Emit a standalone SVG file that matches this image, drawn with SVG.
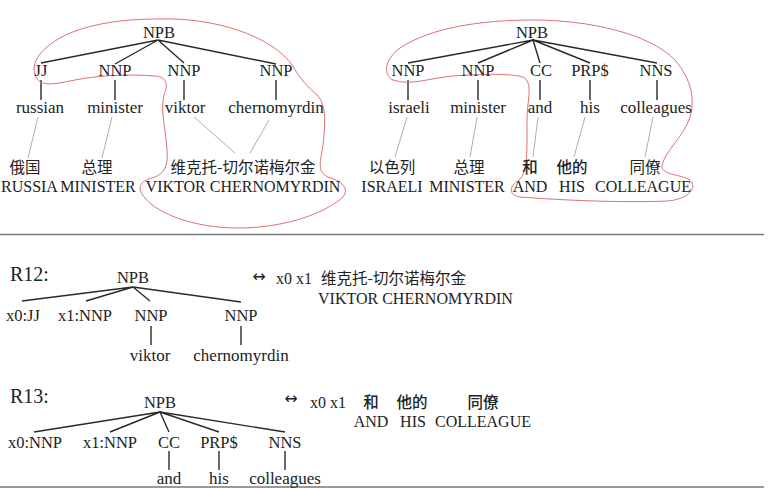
<svg xmlns="http://www.w3.org/2000/svg" width="770" height="488" viewBox="0 0 770 488">
<style>
text{font-family:"Liberation Serif","Times New Roman",serif;fill:#222;text-anchor:middle}
.c{font-size:16.5px}
.w{font-size:17px}
.u{font-size:16px}
.r{font-size:20px;text-anchor:start}
.zh{font-family:"Noto Sans CJK SC","Noto Sans CJK TC",sans-serif;font-size:15.5px}
.zb{font-family:"Noto Sans CJK SC","Noto Sans CJK TC",sans-serif;font-size:15.5px;font-weight:500}
.ar{font-family:"DejaVu Sans",sans-serif;font-size:16px}
.e{stroke:#2a2a2a;stroke-width:1.4;fill:none}
.a{stroke:#9a9a9a;stroke-width:0.8;fill:none}
.o{stroke:#e07070;stroke-width:1;fill:none}
.s{stroke:#777;stroke-width:1.6}
</style>

<g id="connectors">
  <!-- top-left tree -->
  <path class="e" d="M158,40L41,63M158,40L115,64M158,40L184,63M158,40L276,64"/>
  <path class="e" d="M41,80V100M115,80V100M184,80V100M276,80V100"/>
  <path class="a" d="M38,117L28,158M112,117L102,158M194,117L235,153M269,120L250,153"/>
  <!-- top-right tree -->
  <path class="e" d="M533,40L408,63M533,40L478,63M533,40L540,63M533,40L590,63M533,40L657,63"/>
  <path class="e" d="M408,80V100M478,80V100M540,80V100M590,80V100M657,80V100"/>
  <path class="a" d="M407,117L395,157M477,117L470,157M538,117L533,157M585,117L574,157M653,117L645,157"/>
  <!-- R12 -->
  <path class="e" d="M133,287L22,301M133,287L86,301M133,287L150,301M133,287L241,302"/>
  <path class="e" d="M151,326V345M241,326V345"/>
  <!-- R13 -->
  <path class="e" d="M160,412L34,432M160,412L110,432M160,412L169,432M160,412L219,432M160,412L285,432"/>
  <path class="e" d="M169,451V470M219,451V470M285,451V470"/>
</g>

<g id="outlines">
  <path class="o" d="M157,19 C215,17 272,36 293,66 C299,78 308,87 318,96 C327,106 325,128 323,145 C321,160 316,172 328,177 C345,182 352,192 338,201 C318,216 280,228 238,228 C195,228 158,214 145,198 C136,188 140,181 152,178 C166,174 168,164 167,150 C166,130 160,110 164,95 C168,86 168,77 155,76 C130,74 100,75 75,80 C55,84 40,88 35,75 C30,60 45,44 70,33 C95,23 125,19 157,19 Z"/>
  <path class="o" d="M533,20 C590,20 650,34 675,60 C692,80 695,100 690,117 C684,136 666,150 662,165 C660,175 680,174 690,180 C698,188 688,199 668,201 C620,203 560,200 520,197 C508,195 509,186 519,180 C528,172 527,150 527,120 C527,100 533,86 525,78 C515,73 480,74 453,76 C430,78 410,86 393,80 C383,75 384,60 400,48 C430,28 480,20 533,20 Z"/>
</g>

<g id="separators">
  <line class="s" x1="0" y1="234.5" x2="764" y2="234.5"/>
  <line class="s" x1="0" y1="487" x2="764" y2="487"/>
</g>

<!-- top-left tree -->
<g id="tl-npb"><text class="c" x="159" y="38">NPB</text></g>
<g id="tl-jj"><text class="c" x="41" y="76">JJ</text></g>
<g id="tl-nnp1"><text class="c" x="115" y="76">NNP</text></g>
<g id="tl-nnp2"><text class="c" x="184" y="76">NNP</text></g>
<g id="tl-nnp3"><text class="c" x="276" y="76">NNP</text></g>
<g id="tl-russian"><text class="w" x="40" y="113">russian</text></g>
<g id="tl-minister"><text class="w" x="115" y="113">minister</text></g>
<g id="tl-viktor"><text class="w" x="185" y="113">viktor</text></g>
<g id="tl-chernomyrdin"><text class="w" x="276" y="113">chernomyrdin</text></g>
<g id="tl-zh1"><text class="zh" x="25" y="173">俄国</text><text class="u" x="1" y="192" style="text-anchor:start">RUSSIA</text></g>
<g id="tl-zh2"><text class="zh" x="97" y="173">总理</text><text class="u" x="98" y="192">MINISTER</text></g>
<g id="tl-zh3"><text class="zh" x="243" y="173">维克托-切尔诺梅尔金</text><text class="u" x="243" y="192">VIKTOR CHERNOMYRDIN</text></g>

<!-- top-right tree -->
<g id="tr-npb"><text class="c" x="532" y="38">NPB</text></g>
<g id="tr-nnp1"><text class="c" x="408" y="76">NNP</text></g>
<g id="tr-nnp2"><text class="c" x="478" y="76">NNP</text></g>
<g id="tr-cc"><text class="c" x="541" y="76">CC</text></g>
<g id="tr-prp"><text class="c" x="590" y="76">PRP$</text></g>
<g id="tr-nns"><text class="c" x="656" y="76">NNS</text></g>
<g id="tr-israeli"><text class="w" x="409" y="113">israeli</text></g>
<g id="tr-minister"><text class="w" x="478" y="113">minister</text></g>
<g id="tr-and"><text class="w" x="540" y="113">and</text></g>
<g id="tr-his"><text class="w" x="590" y="113">his</text></g>
<g id="tr-colleagues"><text class="w" x="656" y="113">colleagues</text></g>
<g id="tr-zh1"><text class="zh" x="392" y="173">以色列</text><text class="u" x="392" y="192">ISRAELI</text></g>
<g id="tr-zh2"><text class="zh" x="469" y="173">总理</text><text class="u" x="467" y="192">MINISTER</text></g>
<g id="tr-zh3"><text class="zb" x="530" y="173">和</text><text class="u" x="530" y="192">AND</text></g>
<g id="tr-zh4"><text class="zb" x="572" y="173">他的</text><text class="u" x="572" y="192">HIS</text></g>
<g id="tr-zh5"><text class="zh" x="645" y="173">同僚</text><text class="u" x="643" y="192">COLLEAGUE</text></g>

<!-- R12 -->
<g id="r12-label"><text class="r" x="10" y="281">R12:</text></g>
<g id="r12-npb"><text class="c" x="133" y="283">NPB</text></g>
<g id="r12-x0"><text class="c" x="23" y="321">x0:JJ</text></g>
<g id="r12-x1"><text class="c" x="85" y="321">x1:NNP</text></g>
<g id="r12-nnp1"><text class="c" x="151" y="321">NNP</text></g>
<g id="r12-nnp2"><text class="c" x="241" y="321">NNP</text></g>
<g id="r12-viktor"><text class="w" x="150" y="361">viktor</text></g>
<g id="r12-chern"><text class="w" x="241" y="361">chernomyrdin</text></g>
<g id="r12-target">
  <text class="ar" x="259" y="282">↔</text>
  <text class="u" x="276" y="284" style="text-anchor:start">x0 x1</text>
  <text class="zh" x="321" y="284" style="text-anchor:start">维克托-切尔诺梅尔金</text>
  <text class="u" x="318" y="304" style="text-anchor:start">VIKTOR CHERNOMYRDIN</text>
</g>

<!-- R13 -->
<g id="r13-label"><text class="r" x="10" y="403">R13:</text></g>
<g id="r13-npb"><text class="c" x="160" y="408">NPB</text></g>
<g id="r13-x0"><text class="c" x="35" y="448">x0:NNP</text></g>
<g id="r13-x1"><text class="c" x="110" y="448">x1:NNP</text></g>
<g id="r13-cc"><text class="c" x="169" y="448">CC</text></g>
<g id="r13-prp"><text class="c" x="219" y="448">PRP$</text></g>
<g id="r13-nns"><text class="c" x="285" y="448">NNS</text></g>
<g id="r13-and"><text class="w" x="169" y="484">and</text></g>
<g id="r13-his"><text class="w" x="219" y="484">his</text></g>
<g id="r13-colleagues"><text class="w" x="285" y="484">colleagues</text></g>
<g id="r13-target">
  <text class="ar" x="291" y="404">↔</text>
  <text class="u" x="310" y="408" style="text-anchor:start">x0 x1</text>
  <text class="zb" x="371" y="408">和</text>
  <text class="zb" x="412" y="408">他的</text>
  <text class="zb" x="483" y="408">同僚</text>
  <text class="u" x="371" y="427">AND</text>
  <text class="u" x="413" y="427">HIS</text>
  <text class="u" x="483" y="427">COLLEAGUE</text>
</g>
</svg>
